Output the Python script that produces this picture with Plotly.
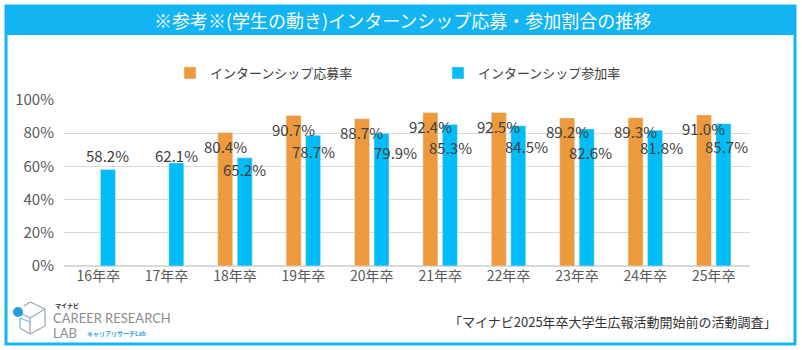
import plotly.graph_objects as go

categories = ["16年卒", "17年卒", "18年卒", "19年卒", "20年卒", "21年卒", "22年卒", "23年卒", "24年卒", "25年卒"]
apply_rate = [None, None, 80.4, 90.7, 88.7, 92.4, 92.5, 89.2, 89.3, 91.0]
join_rate = [58.2, 62.1, 65.2, 78.7, 79.9, 85.3, 84.5, 82.6, 81.8, 85.7]
y_ticks = [0, 20, 40, 60, 80, 100]
y_tick_labels = ["0%", "20%", "40%", "60%", "80%", "100%"]
series_names = ["インターンシップ応募率", "インターンシップ参加率"]
title_text = "※参考※(学生の動き)インターンシップ応募・参加割合の推移"
source_text = "「マイナビ2025年卒大学生広報活動開始前の活動調査」"

# styling
ORANGE = "#EC9A3B"
BLUE = "#00BDF8"
FRAME = "#12B5F2"
FONT = "Noto Sans CJK JP"
W, H = 802, 350
L, R, T, B = 64, 750, 100, 266  # plot area pixels

# label offsets (pixel, style only)
join_label_dy = [14, 7, -12, -16, -19, -23, -21, -24, -17, -23]
join_label_dx = [0, 0, 0, 0, 14, 1, 8, 4, 6, 3]


def px(x):
    return (x - L) / (R - L)


def py(y):
    return (B - y) / (B - T)


fig = go.Figure()
fig.add_trace(go.Bar(x=categories, y=apply_rate, name=series_names[0], marker_color=ORANGE))
fig.add_trace(go.Bar(x=categories, y=join_rate, name=series_names[1], marker_color=BLUE))

annotations = []
slot = (R - L) / len(categories) * (1 - 0.43) / 2
for i, c in enumerate(categories):
    if apply_rate[i] is not None:
        annotations.append(dict(x=c, y=apply_rate[i], xref="x", yref="y", text=f"{apply_rate[i]:.1f}%",
                                showarrow=False, xshift=-slot / 2, yshift=-14,
                                font=dict(family=FONT, size=15, color="#404040")))
    annotations.append(dict(x=c, y=join_rate[i], xref="x", yref="y", text=f"{join_rate[i]:.1f}%",
                            showarrow=False, xshift=slot / 2 + join_label_dx[i], yshift=join_label_dy[i],
                            font=dict(family=FONT, size=15, color="#404040")))

# title
annotations.append(dict(x=px(402), y=py(20), xref="paper", yref="paper", text=title_text, showarrow=False,
                        font=dict(family=FONT, size=18, color="white"), xanchor="center", yanchor="middle"))
# source
annotations.append(dict(x=px(779), y=py(321), xref="paper", yref="paper", text=source_text, showarrow=False,
                        font=dict(family=FONT, size=13, color="#333333"), xanchor="right", yanchor="middle"))
# logo texts
annotations.append(dict(x=px(53), y=py(305), xref="paper", yref="paper", text="<b>マイナビ</b>", showarrow=False,
                        font=dict(family=FONT, size=6, color="#333333"), xanchor="left", yanchor="middle"))
annotations.append(dict(x=px(51), y=py(318), xref="paper", yref="paper", text="CAREER RESEARCH", showarrow=False,
                        font=dict(family="Lato", size=13, color="#8C8C8C"), xanchor="left", yanchor="middle"))
annotations.append(dict(x=px(51), y=py(333), xref="paper", yref="paper", text="LAB", showarrow=False,
                        font=dict(family="Lato", size=13, color="#8C8C8C"), xanchor="left", yanchor="middle"))
annotations.append(dict(x=px(85), y=py(333), xref="paper", yref="paper", text="<b>キャリアリサーチLab</b>", showarrow=False,
                        font=dict(family=FONT, size=6, color="#2BA8E0"), xanchor="left", yanchor="middle"))

shapes = [
    # title bar
    dict(type="rect", xref="paper", yref="paper", x0=px(5), x1=px(796), y0=py(6), y1=py(35),
         fillcolor=FRAME, line=dict(width=0), layer="below"),
    # frame
    dict(type="rect", xref="paper", yref="paper", x0=px(6), x1=px(795), y0=py(6), y1=py(344),
         fillcolor="rgba(0,0,0,0)", line=dict(color=FRAME, width=3)),
]

# logo cube icon
def seg(x0, y0, x1, y1, color="#9AA9B8"):
    return dict(type="line", xref="paper", yref="paper", x0=px(x0), y0=py(y0), x1=px(x1), y1=py(y1),
                line=dict(color=color, width=1.3))

cube = [
    (30, 302, 45, 309), (45, 309, 45, 326), (45, 326, 30, 334), (30, 334, 20, 328),
    (30, 302, 24, 306), (30, 318, 45, 309), (30, 318, 30, 334), (30, 318, 18, 312),
]
for c in cube:
    shapes.append(seg(*c))
shapes.append(seg(20, 318, 20, 328, "#5BC3EE"))
shapes.append(seg(20, 318, 30, 322, "#5BC3EE"))
shapes.append(dict(type="circle", xref="paper", yref="paper", x0=px(13), x1=px(23), y0=py(307), y1=py(317),
                   fillcolor="#1E9FE0", line=dict(width=0)))

fig.update_layout(
    width=W, height=H,
    margin=dict(l=L, r=W - R, t=T, b=H - B),
    paper_bgcolor="white", plot_bgcolor="white",
    barmode="group", bargap=0.43, bargroupgap=0.23,
    font=dict(family=FONT, color="#595959"),
    showlegend=True,
    legend=dict(orientation="h", x=px(170), y=py(73), xanchor="left", yanchor="middle",
                font=dict(family=FONT, size=13, color="#404040"), entrywidth=223, entrywidthmode="pixels",
                itemwidth=30, bgcolor="rgba(0,0,0,0)"),
    annotations=annotations,
    shapes=shapes,
    xaxis=dict(type="category", showgrid=False, showline=False, ticks="",
               tickfont=dict(family=FONT, size=14, color="#595959")),
    yaxis=dict(range=[0, 100], tickmode="array", tickvals=y_ticks, ticktext=y_tick_labels,
               showgrid=True, gridcolor="#D9D9D9", gridwidth=1, zeroline=True, zerolinecolor="#D9D9D9",
               showline=False, ticks="", ticklabelstandoff=9,
               tickfont=dict(family=FONT, size=15, color="#595959")),
)

fig.write_html("out.html")
